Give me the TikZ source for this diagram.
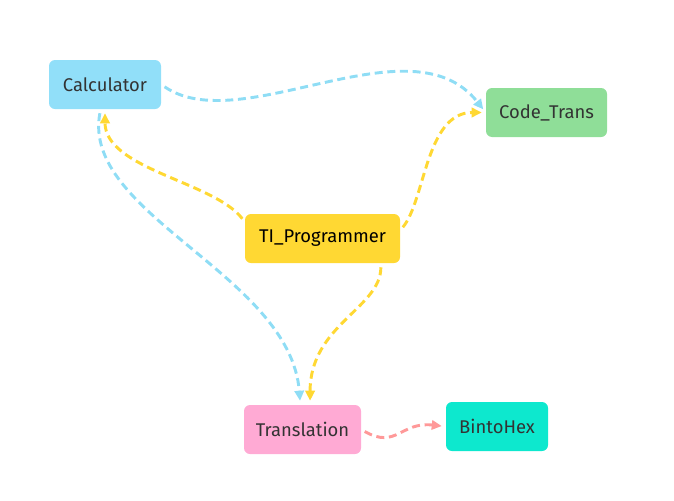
\documentclass[tikz,border=0pt]{standalone}
\usepackage{fontspec}
\setmainfont{Fira Sans}
\usetikzlibrary{arrows.meta}
\definecolor{calcblue}{RGB}{145,223,249}
\definecolor{codegreen}{RGB}{143,222,152}
\definecolor{tiyellow}{RGB}{255,216,51}
\definecolor{transpink}{RGB}{255,170,212}
\definecolor{hexteal}{RGB}{13,232,206}
\definecolor{linkblue}{RGB}{143,221,245}
\definecolor{linksalmon}{RGB}{255,153,153}
\definecolor{txtgray}{RGB}{51,51,51}
\tikzset{
  box/.style={rounded corners=4.5pt,inner sep=0pt,minimum height=36.75pt,
    text=txtgray,font=\fontsize{13.8}{16}\selectfont},
  link/.style={line width=2.2pt,dash pattern=on 6pt off 3.5pt,
    -{Triangle[length=7.5pt,width=7pt]},shorten <=3pt,shorten >=3pt}
}

\begin{document}
\begin{tikzpicture}[x=0.75pt,y=-0.75pt]
\useasboundingbox (0,0) rectangle (674,500);
\node[box,fill=calcblue,minimum width=84pt] (calc) at (105,84.5) {Calculator};
\node[box,fill=codegreen,minimum width=90.75pt] (code) at (546.5,112.5) {Code\_Trans};
\node[box,fill=tiyellow,minimum width=116.25pt,text=black] (ti) at (322.5,238.5) {TI\_Programmer};
\node[box,fill=transpink,minimum width=87.75pt] (trans) at (302.5,429.5) {Translation};
\node[box,fill=hexteal,minimum width=76.5pt] (hex) at (497,426.5) {BintoHex};
% blue links
\draw[link,linkblue] (calc.east) .. controls +(80,55) and +(-75,-95) .. (code.west);
\draw[link,linkblue] (calc.-100) .. controls +(-20,105) and +(-10,-130) .. (trans.95);
% yellow links
\draw[link,tiyellow] (ti.168) .. controls +(-30,-40) and +(0,60) .. (calc.south);
\draw[link,tiyellow] (ti.6) .. controls +(25,-30) and +(-60,0) .. (code.west);
\draw[link,tiyellow] (ti.-23) .. controls +(0,45) and +(0,-80) .. (trans.73);
% salmon link
\draw[link,linksalmon] (trans.east) .. controls +(35,20) and +(-45,-5) .. (hex.west);
\end{tikzpicture}
\end{document}
